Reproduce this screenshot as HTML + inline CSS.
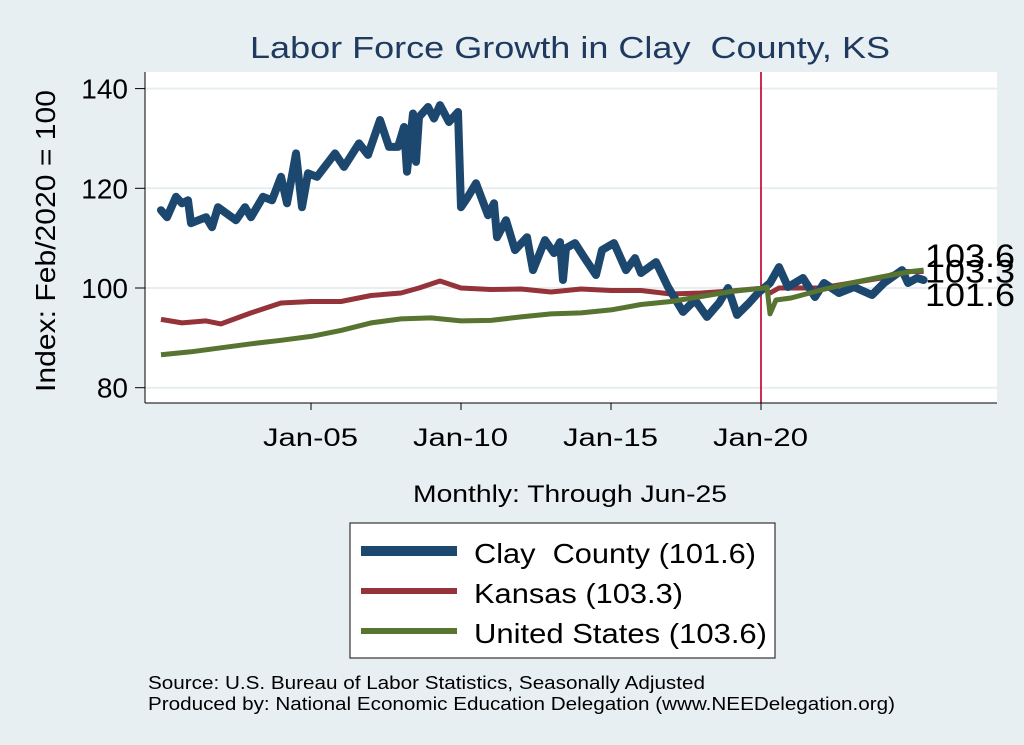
<!DOCTYPE html>
<html><head><meta charset="utf-8">
<style>
html,body{margin:0;padding:0;background:#e8eff2;}
svg{display:block;font-family:"Liberation Sans",Arial,sans-serif;}
</style></head>
<body>
<svg id="chart" width="1024" height="745" viewBox="0 0 1024 745">
<rect x="0" y="0" width="1024" height="745" fill="#e8eff2"/>
<text x="250" y="58" font-size="31" textLength="640" lengthAdjust="spacingAndGlyphs" fill="#1f3a5f">Labor Force Growth in Clay&#160; County, KS</text>
<rect x="145" y="72" width="852" height="331" fill="#ffffff"/>
<g id="grid"></g>
<g id="series"></g>
<line x1="145" y1="72" x2="145" y2="403" stroke="#000" stroke-width="1"/>
<line x1="145" y1="403" x2="997" y2="403" stroke="#000" stroke-width="1"/>
<g id="yticks"></g>
<g id="xticks"></g>
<text transform="translate(55,392) rotate(-90)" font-size="28" textLength="302" lengthAdjust="spacingAndGlyphs" fill="#000">Index: Feb/2020 = 100</text>
<text x="413" y="502" font-size="24" textLength="314" lengthAdjust="spacingAndGlyphs" fill="#000">Monthly: Through Jun-25</text>
<g id="endlabels"></g>
<g>
<rect x="350" y="523" width="425" height="135" fill="#fff" stroke="#333" stroke-width="1.2"/>
<rect x="361" y="546" width="96" height="10" fill="#1c476e"/>
<text x="474" y="563" font-size="28" textLength="282" lengthAdjust="spacingAndGlyphs" fill="#000">Clay&#160; County (101.6)</text>
<rect x="361" y="588" width="96" height="6" fill="#943339"/>
<text x="474" y="603" font-size="28" textLength="209" lengthAdjust="spacingAndGlyphs" fill="#000">Kansas (103.3)</text>
<rect x="361" y="628" width="96" height="6" fill="#577430"/>
<text x="474" y="643" font-size="28" textLength="293" lengthAdjust="spacingAndGlyphs" fill="#000">United States (103.6)</text>
</g>
<text x="148" y="689" font-size="18" textLength="557" lengthAdjust="spacingAndGlyphs" fill="#000">Source: U.S. Bureau of Labor Statistics, Seasonally Adjusted</text>
<text x="148" y="710" font-size="18" textLength="747" lengthAdjust="spacingAndGlyphs" fill="#000">Produced by: National Economic Education Delegation (www.NEEDelegation.org)</text>
</svg>
<script>
const yTicks = [80, 100, 120, 140];
const xTickLabels = ["Jan-05", "Jan-10", "Jan-15", "Jan-20"];
const xTickYears = [2005, 2010, 2015, 2020];
const clayYears = [2000.0,2000.2,2000.5,2000.7,2000.9,2001.0,2001.5,2001.7,2001.9,2002.5,2002.8,2003.0,2003.4,2003.7,2004.0,2004.2,2004.5,2004.7,2004.9,2005.2,2005.8,2006.1,2006.6,2006.9,2007.3,2007.6,2007.9,2008.1,2008.2,2008.4,2008.5,2008.6,2008.9,2009.1,2009.3,2009.6,2009.9,2010.0,2010.2,2010.5,2010.9,2011.1,2011.2,2011.5,2011.8,2012.2,2012.4,2012.8,2013.1,2013.3,2013.4,2013.5,2013.8,2014.1,2014.5,2014.7,2015.1,2015.5,2015.8,2016.0,2016.5,2016.9,2017.4,2017.8,2018.2,2018.6,2018.9,2019.2,2019.6,2019.9,2020.1,2020.3,2020.6,2020.9,2021.4,2021.8,2022.1,2022.6,2023.1,2023.7,2024.1,2024.7,2024.9,2025.2,2025.42];
const clayValues = [115.6,114.2,118.3,117,117.6,113,114.2,112.2,116.2,113.6,116.2,114.2,118.3,117.6,122.3,117,127,116.2,123,122.3,127,124.3,129,126.7,133.7,128.3,128.3,132.3,123.3,135,125.3,134.3,136.3,134,136.7,133.3,135.3,116.2,118,121,114.6,117,110.2,113.6,107.6,110.2,103.6,109.6,107,109.2,101.6,108,109,106.2,102.6,107.6,109,103.6,106,103,105.2,100.2,95.2,97.6,94.2,97,100,94.6,97,99,100,101,104.2,100.2,102,98.2,101,99,100.2,98.6,101,103.6,101,102,101.6];
const ksYears = [2000,2000.7,2001.5,2002,2003,2004,2005,2006,2007,2008,2008.6,2009.3,2010,2011,2012,2013,2014,2015,2016,2017,2018,2019,2020.1,2020.3,2020.6,2021,2022,2023,2024,2024.7,2025.42];
const ksValues = [93.7,93,93.4,92.8,95,97,97.3,97.3,98.5,99,100,101.4,100,99.7,99.8,99.2,99.8,99.5,99.5,98.8,99,99.4,100,99,100,100,100,101,102,103.3,103.3];
const usYears = [2000,2001,2002,2003,2004,2005,2006,2007,2008,2009,2010,2011,2012,2013,2014,2015,2016,2017,2018,2019,2020.1,2020.2,2020.3,2020.5,2021,2022,2023,2024,2025,2025.42];
const usValues = [86.6,87.2,88,88.8,89.5,90.3,91.5,93,93.8,94,93.4,93.5,94.2,94.8,95,95.6,96.7,97.3,98.3,99.3,100,100.2,94.8,97.6,98,99.6,101,102.2,103.3,103.6];
const endLabels = ["103.6", "103.3", "101.6"];
const endLabelValues = [106.4, 103.3, 98.6];

const NS = "http://www.w3.org/2000/svg";
function xs(yr){ return 161 + (yr - 2000) * 30; }
function ys(v){ return 288 - (v - 100) * 4.985; }
function mk(tag, attrs, parent){ const e=document.createElementNS(NS,tag); for(const k in attrs) e.setAttribute(k,attrs[k]); parent.appendChild(e); return e; }

const grid=document.getElementById('grid'), yt=document.getElementById('yticks'), xt=document.getElementById('xticks');
yTicks.forEach(v=>{
  const g=mk('line',{x1:145,x2:997,y1:ys(v),y2:ys(v),stroke:'#e6eef1','stroke-width':2},grid);
  
  
  const t=mk('line',{x1:135,x2:145,y1:ys(v),y2:ys(v),stroke:'#000'},yt);
  
  
  const l=mk('text',{x:128,y:ys(v)+10,'text-anchor':'end','font-size':28},yt);
  l.textContent=v;
  
  
});
xTickYears.forEach((yr,i)=>{
  const t=mk('line',{x1:xs(yr),x2:xs(yr),y1:403,y2:410,stroke:'#000'},xt);
  
  
  const l=mk('text',{x:xs(yr)-48,y:446,'font-size':25,textLength:95,lengthAdjust:'spacingAndGlyphs'},xt);
  l.textContent=xTickLabels[i];
  
  
});
const sg=document.getElementById('series');
const rl=mk('line',{x1:xs(2020.0),x2:xs(2020.0),y1:72,y2:403,stroke:'#c8143c','stroke-width':1.8},sg);


function path(xsArr, vals){ return xsArr.map((y,i)=>(i?'L':'M')+xs(y).toFixed(1)+','+ys(vals[i]).toFixed(1)).join(''); }
const pk=mk('path',{d:path(ksYears,ksValues),fill:'none',stroke:'#943339','stroke-width':5,'stroke-linejoin':'round'},sg);


const pc=mk('path',{d:path(clayYears,clayValues),fill:'none',stroke:'#1c476e','stroke-width':8,'stroke-linejoin':'round','stroke-linecap':'round'},sg);


const pu=mk('path',{d:path(usYears,usValues),fill:'none',stroke:'#577430','stroke-width':5,'stroke-linejoin':'round'},sg);


const el=document.getElementById('endlabels');
endLabels.forEach((s,i)=>{
  const t=mk('text',{x:925,y:ys(endLabelValues[i])+11,'font-size':32,fill:'#000',textLength:90,lengthAdjust:'spacingAndGlyphs'},el);
  t.textContent=s;
  
  
});
</script>
</body></html>
